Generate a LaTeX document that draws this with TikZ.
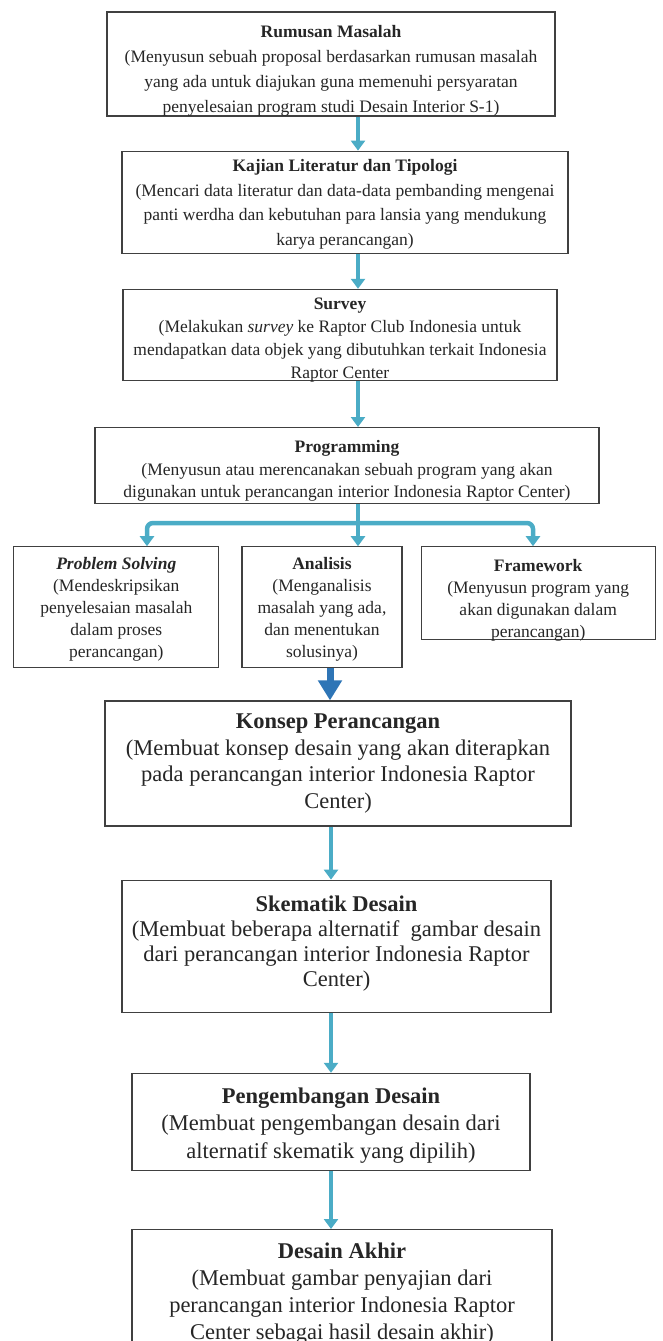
\documentclass[tikz,border=0pt]{standalone}
\usepackage{fontspec}
\setmainfont{Liberation Serif}
\usetikzlibrary{arrows.meta,positioning}
\definecolor{flowteal}{RGB}{75,172,198}
\definecolor{flowblue}{RGB}{46,117,182}

\begin{document}
\begin{tikzpicture}[x=1pt, y=1pt,
    node distance=35pt,
    box/.style={draw=black!75, line width=1.2pt, align=center, inner sep=2pt, text=black!85, text depth=0pt, font=\fontsize{17.5}{23.5}\selectfont},
    smallbox/.style={box, font=\fontsize{17.5}{22}\selectfont},
    bigbox/.style={box, font=\fontsize{22.5}{26.5}\selectfont},
    flow/.style={draw=flowteal, line width=4.5pt, -{Triangle[width=14pt,length=10pt]}},
    bigflow/.style={draw=flowblue, line width=7pt, -{Triangle[width=23pt,length=20pt]}}]
    \useasboundingbox (0,0) rectangle (662,-1341);
    \clip (0,0) rectangle (662,-1341);
    \coordinate (axis) at (358,0);
    \coordinate (lowaxis) at (331,0);
    \coordinate (lbr) at (147,-523);
    \coordinate (rbr) at (533,-523);
    % upper part
    \node[box, font=\fontsize{17.5}{25}\selectfont, minimum width=448pt, minimum height=104pt, text height=96pt] (rumusan) at (331,-64) {\textbf{Rumusan Masalah}\\(Menyusun sebuah proposal berdasarkan rumusan masalah\\yang ada untuk diajukan guna memenuhi persyaratan\\penyelesaian program studi Desain Interior S-1)};
    \node[box, font=\fontsize{17.5}{24.5}\selectfont, minimum width=446pt, minimum height=102pt, text height=86pt, below=34pt of rumusan, xshift=14pt] (kajian) {\textbf{Kajian Literatur dan Tipologi}\\(Mencari data literatur dan data-data pembanding mengenai\\panti werdha dan kebutuhan para lansia yang mendukung\\karya perancangan)};
    \node[box, font=\fontsize{17.5}{23}\selectfont, minimum width=434pt, minimum height=91pt, text height=87pt, text depth=-12pt, below=35pt of kajian, xshift=-5pt] (survey) {\textbf{Survey}\\(Melakukan \textit{survey} ke Raptor Club Indonesia untuk\\mendapatkan data objek yang dibutuhkan terkait Indonesia\\Raptor Center};
    \node[box, font=\fontsize{17.5}{22.5}\selectfont, minimum width=504pt, minimum height=76pt, text height=64pt, below=46pt of survey, xshift=7pt] (programming) {\textbf{Programming}\\(Menyusun atau merencanakan sebuah program yang akan\\digunakan untuk perancangan interior Indonesia Raptor Center)};
    \node[smallbox, minimum width=160pt, minimum height=121pt, text height=101pt, below=42pt of programming, xshift=-25pt] (analisis) {\textbf{Analisis}\\(Menganalisis\\masalah yang ada,\\dan menentukan\\solusinya)};
    \node[smallbox, minimum width=205pt, minimum height=121pt, text height=101pt, left=22pt of analisis] (problem) {\textbf{\textit{Problem Solving}}\\(Mendeskripsikan\\penyelesaian masalah\\dalam proses\\perancangan)};
    \node[smallbox, minimum width=234pt, minimum height=93pt, text height=89pt, right=18pt of analisis.north east, anchor=north west] (framework) {\textbf{Framework}\\(Menyusun program yang\\akan digunakan dalam\\perancangan)};
    % lower part
    \node[bigbox, minimum width=466pt, minimum height=125pt, text height=89pt, below=32pt of analisis, xshift=16pt] (konsep) {\textbf{Konsep Perancangan}\\(Membuat konsep desain yang akan diterapkan\\pada perancangan interior Indonesia Raptor\\Center)};
    \node[bigbox, font=\fontsize{22.5}{25}\selectfont, minimum width=429pt, minimum height=132pt, text height=80pt, below=53pt of konsep, xshift=-1.5pt] (skematik) {\textbf{Skematik Desain}\\(Membuat beberapa alternatif\ \ gambar desain\\dari perancangan interior Indonesia Raptor\\Center)};
    \node[bigbox, font=\fontsize{22.5}{27.5}\selectfont, minimum width=398pt, minimum height=97pt, text height=73pt, below=60pt of skematik, xshift=-5.5pt] (pengembangan) {\textbf{Pengembangan Desain}\\(Membuat pengembangan desain dari\\alternatif skematik yang dipilih)};
    \node[bigbox, font=\fontsize{22.5}{27}\selectfont, minimum width=420pt, minimum height=127pt, text height=93pt, below=58pt of pengembangan, xshift=11pt] (akhir) {\textbf{Desain Akhir}\\(Membuat gambar penyajian dari\\perancangan interior Indonesia Raptor\\Center sebagai hasil desain akhir)};
    % arrows
    \draw[flow] (rumusan.south -| axis) -- (kajian.north -| axis);
    \draw[flow] (kajian.south -| axis) -- (survey.north -| axis);
    \draw[flow] (survey.south -| axis) -- (programming.north -| axis);
    \draw[flow] (programming.south -| axis) -- (analisis.north -| axis);
    \draw[flow, rounded corners=6pt] (axis |- lbr) -| (problem.north -| lbr);
    \draw[flow, rounded corners=6pt] (axis |- rbr) -| (framework.north -| rbr);
    \draw[bigflow] ([xshift=8pt]analisis.south) -- ([xshift=8pt]analisis.south |- konsep.north);
    \draw[flow] (konsep.south -| lowaxis) -- (skematik.north -| lowaxis);
    \draw[flow] (skematik.south -| lowaxis) -- (pengembangan.north -| lowaxis);
    \draw[flow] (pengembangan.south -| lowaxis) -- (akhir.north -| lowaxis);
\end{tikzpicture}
\end{document}
